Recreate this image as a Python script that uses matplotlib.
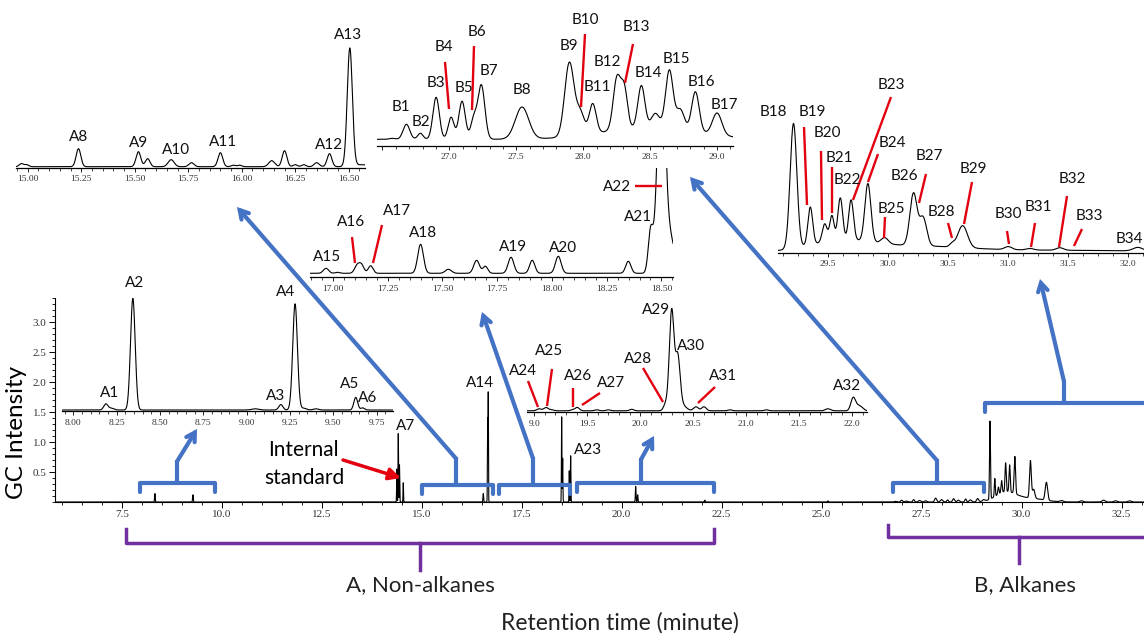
import numpy as np
import matplotlib
matplotlib.use("Agg")
import matplotlib.pyplot as plt
from matplotlib.ticker import MultipleLocator, FixedLocator, FormatStrFormatter, FuncFormatter

# ---------------- data (retention time [min], peak height, peak width [min]) ----------------
# main chromatogram, GC intensity
main_rt = [8.33, 9.28, 14.38, 14.415, 14.445, 14.54, 16.54, 16.65, 16.665, 18.50, 18.525, 18.69, 18.725,
           20.35, 20.40, 22.08, 25.16,
           26.85, 27.0, 27.12, 27.3, 27.45, 27.6, 27.85, 28.0, 28.15, 28.3, 28.42, 28.6, 28.72, 28.9, 29.05,
           29.21, 29.33, 29.42, 29.50, 29.60, 29.70, 29.83, 30.22, 30.30, 30.62, 29.60, 30.2,
           31.0, 31.5, 32.05, 32.35, 32.7]
main_h = [0.14, 0.12, 0.55, 1.14, 0.62, 0.32, 0.14, 1.38, 1.77, 1.42, 0.73, 0.52, 0.77,
          0.26, 0.12, 0.03, 0.02,
          0.01, 0.03, 0.015, 0.04, 0.025, 0.02, 0.065, 0.04, 0.035, 0.055, 0.03, 0.05, 0.035, 0.055, 0.025,
          1.30, 0.30, 0.12, 0.20, 0.48, 0.45, 0.62, 0.62, 0.15, 0.30, 0.16, 0.06,
          0.02, 0.02, 0.03, 0.02, 0.02]
main_w = [0.008, 0.008, 0.006, 0.006, 0.006, 0.006, 0.008, 0.006, 0.005, 0.006, 0.006, 0.006, 0.006,
          0.008, 0.008, 0.01, 0.01,
          0.03, 0.025, 0.03, 0.02, 0.03, 0.03, 0.025, 0.03, 0.02, 0.025, 0.03, 0.02, 0.03, 0.025, 0.03,
          0.012, 0.012, 0.015, 0.015, 0.015, 0.015, 0.018, 0.022, 0.03, 0.03, 0.25, 0.35,
          0.04, 0.04, 0.04, 0.04, 0.04]

# inset A1-A6 (GC intensity above the 1.5 line)
a1_rt = [8.188, 8.22, 8.344, 9.05, 9.198, 9.28, 9.33, 9.40, 9.63, 9.67]
a1_h = [0.10, 0.03, 1.86, 0.02, 0.09, 1.77, 0.03, 0.02, 0.21, 0.035]
a1_w = [0.012, 0.015, 0.0135, 0.02, 0.012, 0.0135, 0.015, 0.015, 0.011, 0.011]

# inset A8-A13 (relative intensity)
a8_rt = [14.97, 14.995, 15.237, 15.517, 15.56, 15.67, 15.765, 15.90, 15.96, 15.99, 16.14, 16.20,
         16.25, 16.29, 16.35, 16.41, 16.505, 16.56]
a8_h = [3, 2, 18, 15, 8, 7, 4, 14, 1.5, 1.5, 6, 16, 2, 2, 4, 13, 118, 2]
a8_w = [0.01, 0.01, 0.011, 0.011, 0.011, 0.014, 0.012, 0.011, 0.01, 0.01, 0.014, 0.011,
        0.01, 0.01, 0.012, 0.011, 0.012, 0.04]

# inset A15-A22 (relative intensity)
a15_rt = [16.968, 17.02, 17.111, 17.131, 17.172, 17.40, 17.527, 17.656, 17.696, 17.813, 17.910,
          18.029, 18.349, 18.451, 18.50, 18.545]
a15_h = [5, 1, 8, 7.5, 7.5, 29, 4, 13, 7, 16, 13, 17, 12, 42, 220, 30]
a15_w = [0.012, 0.01, 0.012, 0.011, 0.011, 0.013, 0.014, 0.013, 0.011, 0.013, 0.012, 0.013,
         0.012, 0.011, 0.018, 0.018]

# inset A24-A32 (relative intensity)
a24_rt = [19.044, 19.11, 19.164, 19.362, 19.406, 19.589, 19.698, 19.919, 20.24, 20.296, 20.353,
          20.39, 20.525, 20.60, 20.846, 21.19, 21.76, 21.787, 22.009, 22.057, 22.09]
a24_h = [2, 3.3, 1, 1, 3.3, 1, 1, 1.5, 6.7, 100, 51, 6, 4, 4, 1, 1, 1.5, 1, 13.3, 4, 2.5]
a24_w = [0.02, 0.022, 0.02, 0.02, 0.02, 0.02, 0.02, 0.02, 0.02, 0.022, 0.022, 0.04, 0.022,
         0.022, 0.02, 0.02, 0.02, 0.02, 0.022, 0.022, 0.022]

# inset B1-B17 (relative intensity)
b1_rt = [26.572, 26.679, 26.783, 26.901, 27.013, 27.095, 27.182, 27.239, 27.543, 27.897, 27.979,
         28.071, 28.253, 28.308, 28.435, 28.54, 28.644, 28.726, 28.839, 29.001, 28.5]
b1_h = [1, 15, 6, 42, 22, 38, 20, 54, 32, 74, 22, 30, 52, 38, 42, 14, 58, 20, 40, 22, 12]
b1_w = [0.02, 0.025, 0.02, 0.024, 0.022, 0.024, 0.022, 0.026, 0.05, 0.035, 0.03, 0.026, 0.028,
        0.024, 0.026, 0.03, 0.028, 0.03, 0.028, 0.035, 0.35]

# inset B18-B34 (relative intensity)
b18_rt = [29.21, 29.35, 29.47, 29.53, 29.60, 29.69, 29.83, 29.97, 30.21, 30.29, 30.53, 30.62,
          31.0, 31.18, 31.43, 32.08, 29.60, 30.2, 31.2]
b18_h = [125, 38, 18, 25, 42, 40, 58, 6, 52, 28, 3, 22, 3, 1.5, 2.5, 3.5, 10, 5, 1.5]
b18_w = [0.028, 0.02, 0.02, 0.018, 0.02, 0.02, 0.025, 0.03, 0.03, 0.03, 0.02, 0.04,
         0.03, 0.03, 0.03, 0.04, 0.25, 0.4, 0.8]

# peak labels (text, x px, y px)
label_names = ["A1", "A2", "A3", "A4", "A5", "A6", "A7", "A8", "A9", "A10", "A11", "A12", "A13",
               "A14", "A15", "A16", "A17", "A18", "A19", "A20", "A21", "A22", "A23", "A24", "A25",
               "A26", "A27", "A28", "A29", "A30", "A31", "A32",
               "B1", "B2", "B3", "B4", "B5", "B6", "B7", "B8", "B9", "B10", "B11", "B12", "B13",
               "B14", "B15", "B16", "B17", "B18", "B19", "B20", "B21", "B22", "B23", "B24", "B25",
               "B26", "B27", "B28", "B29", "B30", "B31", "B32", "B33", "B34"]
label_x = [110, 135, 276, 286, 350, 368, 406, 79, 139, 176, 223, 329, 348,
           480, 327, 351, 397, 423, 513, 563, 638, 617, 588, 523, 549,
           578, 611, 638, 656, 691, 723, 847,
           401, 421, 436, 444, 464, 477, 489, 522, 569, 585, 597, 607, 636,
           648, 676, 701, 724, 773, 812, 827, 839, 847, 891, 892, 891,
           904, 929, 941, 973, 1008, 1038, 1072, 1089, 1129]
label_y = [393, 283, 396, 292, 384, 398, 426, 137, 143, 150, 142, 145, 35,
           383, 257, 222, 211, 233, 247, 248, 217, 187, 450, 371, 351,
           376, 383, 359, 310, 346, 376, 386,
           107, 122, 83, 47, 88, 32, 71, 90, 46, 20, 87, 62, 27,
           73, 59, 82, 105, 112, 112, 133, 158, 180, 85, 143, 209,
           176, 156, 212, 169, 214, 207, 179, 216, 239]

# red leader lines (x1, y1, x2, y2) px
leaders = [(445, 62, 449, 109), (474, 46, 472, 110), (585, 34, 581, 107), (633, 44, 625, 83),
           (352, 237, 355, 263), (382, 225, 373, 263), (635, 186, 662, 186),
           (804, 127, 807, 205), (821, 151, 822, 220), (832, 167, 832, 213), (891, 97, 853, 200),
           (878, 154, 868, 182), (885, 217, 884, 238), (926, 174, 919, 203), (948, 223, 952, 238),
           (972, 182, 964, 224), (1007, 231, 1009, 244), (1035, 223, 1031, 247),
           (1067, 196, 1059, 247), (1082, 229, 1074, 246),
           (528, 381, 538, 407), (552, 369, 547, 406), (573, 388, 573, 407), (600, 393, 582, 405),
           (643, 368, 663, 402), (715, 387, 698, 403)]

W, H = 1144, 634
BLUE = "#4472C4"
PURPLE = "#7030A0"
RED = "#E3000F"
LBL_FONT = ["Lato", "DejaVu Sans"]
TICK_FONT = "Liberation Serif"

plt.rcParams["font.family"] = LBL_FONT
fig = plt.figure(figsize=(W / 100, H / 100), dpi=100)


def px_axes(x0, x1, ybot, ytop, z):
    return fig.add_axes([x0 / W, 1 - ybot / H, (x1 - x0) / W, (ybot - ytop) / H], zorder=z)


def trace(t, rt, h, w, base=0.0):
    y = np.full_like(t, base)
    for r, a, s in zip(rt, h, w):
        y += a * np.exp(-0.5 * ((t - r) / s) ** 2)
    return y


# ---------------- main axes ----------------
ax = px_axes(55, 1144, 502, 298, 1)
ax.set_xlim(5.8325, 33.06)
ax.set_ylim(0, 3.4)
t = np.linspace(5.8325, 33.06, 40000)
ax.plot(t, trace(t, main_rt, main_h, main_w), color="black", lw=0.8)
for s in ["top", "right"]:
    ax.spines[s].set_visible(False)
ax.xaxis.set_major_locator(MultipleLocator(2.5))
ax.xaxis.set_minor_locator(MultipleLocator(0.5))
ax.xaxis.set_major_formatter(FormatStrFormatter("%.1f"))
ax.yaxis.set_major_locator(FixedLocator([0.5, 1.0, 1.5, 2.0, 2.5, 3.0]))
ax.yaxis.set_minor_locator(MultipleLocator(0.1))
ax.yaxis.set_major_formatter(FormatStrFormatter("%.1f"))
ax.tick_params(which="major", direction="out", length=4, width=0.7, labelsize=8,
               labelfontfamily=TICK_FONT, labelcolor="#333333", pad=2)
ax.tick_params(which="minor", direction="out", length=2.5, width=0.6)
ax.set_ylabel("GC Intensity", fontsize=17.5, labelpad=6)
ax.yaxis.set_label_coords(-28 / (1144 - 55), 0.34)


def make_inset(x0, x1, ybot, ytop, tlim, ylim, major, minor, fmt, rt, h, w, base):
    a = px_axes(x0, x1, ybot, ytop, 5)
    a.patch.set_alpha(0)
    a.set_xlim(tlim)
    a.set_ylim(ylim)
    tt = np.linspace(tlim[0], tlim[1], 6000)
    a.plot(tt, trace(tt, rt, h, w, base), color="black", lw=0.8, clip_on=True)
    for s in ["top", "right", "left"]:
        a.spines[s].set_visible(False)
    a.spines["bottom"].set_linewidth(0.9)
    a.set_yticks([])
    a.xaxis.set_major_locator(MultipleLocator(major))
    a.xaxis.set_minor_locator(MultipleLocator(minor))
    a.xaxis.set_major_formatter(fmt)
    a.tick_params(axis="x", which="major", direction="out", length=3, width=0.6, labelsize=6.8,
                  labelfontfamily=TICK_FONT, labelcolor="#333333", pad=2.5)
    a.tick_params(axis="x", which="minor", direction="out", length=2, width=0.5)
    return a


make_inset(62.3, 393, 411, 290, (7.937, 9.845), (1.5, 3.517), 0.25, 0.05,
           FormatStrFormatter("%.2f"), a1_rt, a1_h, a1_w, 1.5 + 1 / 60)
make_inset(16, 365, 167.7, 20, (14.945, 16.576), (-1, 146.7), 0.25, 0.05,
           FormatStrFormatter("%.2f"), a8_rt, a8_h, a8_w, 0.0)
make_inset(310, 673, 277.3, 168, (16.895, 18.553), (-4, 105.3), 0.25, 0.05,
           FormatStrFormatter("%.2f"), a15_rt, a15_h, a15_w, 0.0)
make_inset(527.3, 866.7, 412.3, 300, (18.934, 22.136), (-1.5, 110.8), 0.5, 0.1,
           FuncFormatter(lambda v, p: "9.0" if abs(v - 19) < 1e-6 else f"{v:.1f}"),
           a24_rt, a24_h, a24_w, 0.0)
make_inset(376.7, 733.3, 145.7, 0, (26.457, 29.122), (-6.4, 139.3), 0.5, 0.1,
           FuncFormatter(lambda v, p: "" if v < 26.9 else f"{v:.1f}"),
           b1_rt, b1_h, b1_w, 0.0)
make_inset(778, 1144, 252.7, 100, (29.081, 32.131), (-1, 151.7), 0.5, 0.125,
           FormatStrFormatter("%.1f"), b18_rt, b18_h, b18_w, 0.0)

# ---------------- overlay (annotations in pixel space) ----------------
ov = fig.add_axes([0, 0, 1, 1], zorder=20)
ov.set_xlim(0, W)
ov.set_ylim(H, 0)
ov.axis("off")
ov.patch.set_alpha(0)

for name, x, y in zip(label_names, label_x, label_y):
    ov.text(x, y, name, fontsize=11, ha="center", va="center", color="#111111")
for (x1, y1, x2, y2) in leaders:
    ov.plot([x1, x2], [y1, y2], color=RED, lw=1.7, solid_capstyle="butt")

ov.text(303, 450, "Internal", fontsize=15, ha="center", va="center")
ov.text(304, 478, "standard", fontsize=15, ha="center", va="center")
ov.annotate("", xy=(401, 478), xytext=(343, 460),
            arrowprops=dict(arrowstyle="-|>,head_length=0.7,head_width=0.35", color=RED, lw=2.5,
                            shrinkA=0, shrinkB=0))


def blue_bracket(x0, x1, yh, yend, xs, ytop, tip):
    ov.plot([x0, x0, x1, x1], [yend, yh, yh, yend], color=BLUE, lw=3,
            solid_joinstyle="round", solid_capstyle="round")
    ov.plot([xs, xs], [yh, ytop], color=BLUE, lw=3, solid_capstyle="butt")
    ov.annotate("", xy=tip, xytext=(xs, ytop + 1.5),
                arrowprops=dict(arrowstyle="->,head_length=0.6,head_width=0.35", color=BLUE, lw=3,
                                shrinkA=0, shrinkB=0, joinstyle="miter"))


blue_bracket(140, 215, 483, 492, 177, 460, (197, 429))
blue_bracket(422, 493, 485, 494, 456, 457, (237, 207))
blue_bracket(499, 570, 485, 494, 533, 457, (482, 312))
blue_bracket(577, 714, 483, 492, 641, 458, (654, 436))
blue_bracket(893, 984, 483, 492, 937, 459, (690, 177))
blue_bracket(985, 1160, 403, 412, 1064, 380, (1040, 279))

# purple group brackets
ov.plot([125.5, 125.5, 713.5, 713.5], [529, 543, 543, 529], color=PURPLE, lw=2.5,
        solid_joinstyle="round")
ov.plot([419.5, 419.5], [543, 570], color=PURPLE, lw=2.5)
ov.plot([888, 888, 1160], [525, 537, 537], color=PURPLE, lw=2.5, solid_joinstyle="round")
ov.plot([1019, 1019], [537, 563], color=PURPLE, lw=2.5)

ov.text(420, 585, "A, Non-alkanes", fontsize=16, ha="center", va="center", color="#222222")
ov.text(1025, 585, "B, Alkanes", fontsize=16, ha="center", va="center", color="#222222")
ov.text(620, 623, "Retention time (minute)", fontsize=16.5, ha="center", va="center", color="#222222")

fig.savefig("out.png", dpi=100)
